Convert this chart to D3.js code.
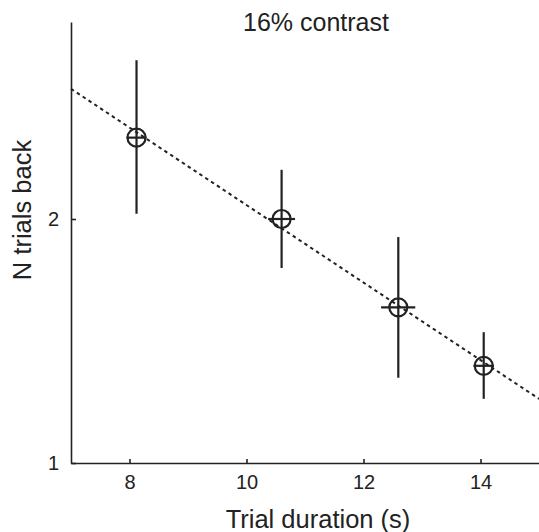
<!DOCTYPE html>
<html>
<head>
<meta charset="utf-8">
<script src="https://cdn.jsdelivr.net/npm/d3@7"></script>
<style>
  body { margin: 0; background: #fff; }
  svg { display: block; }
  text { font-family: "Liberation Sans", Arial, sans-serif; fill: #222; }
</style>
</head>
<body>
<svg id="chart" width="539" height="532"></svg>
<script>
// Data
const durations = [8.12, 10.60, 12.595, 14.055];   // trial duration (s)
const nBack     = [2.52, 2.00, 1.556, 1.318];     // N trials back
const nBackLo   = [2.03, 1.74, 1.274, 1.20];
const nBackHi   = [3.14, 2.30, 1.90, 1.45];
const durLo     = [7.95, 10.37, 12.30, 13.88];
const durHi     = [8.29, 10.83, 12.885, 14.23];
const fitX      = [7, 15];
const fitY      = [2.895, 1.20];
const xTicks    = [8, 10, 12, 14];
const yTicks    = [1, 2];
const title     = "16% contrast";
const xLabel    = "Trial duration (s)";
const yLabel    = "N trials back";

const svg = d3.select("#chart");
const ink = "#222";

const x = d3.scaleLinear().domain([7, 15]).range([71, 539]);
const y = d3.scaleLog().domain([1, 3.5]).range([463, 22]);

// Axes
const xAxis = d3.axisBottom(x).tickValues(xTicks).tickSizeInner(-4).tickSizeOuter(0).tickPadding(12).tickFormat(d3.format("d"));
const yAxis = d3.axisLeft(y).tickValues(yTicks).tickSizeInner(-5).tickSizeOuter(0).tickPadding(12).tickFormat(d3.format("d"));

const gx = svg.append("g").attr("transform", `translate(0,${y(1)})`).call(xAxis);
const gy = svg.append("g").attr("transform", `translate(${x(7)},0)`).call(yAxis);
[gx, gy].forEach(g => {
  g.select(".domain").attr("stroke", ink).attr("stroke-width", 1.6);
  g.selectAll(".tick line").attr("stroke", ink).attr("stroke-width", 1.6);
  g.selectAll(".tick text").attr("font-size", 20).attr("fill", ink)
    .style("font-family", '"Liberation Sans", Arial, sans-serif');
});
gx.selectAll(".tick text").attr("dy", "0.71em");

// Fit line (dotted)
svg.append("line")
  .attr("x1", x(fitX[0])).attr("y1", y(fitY[0]))
  .attr("x2", x(fitX[1])).attr("y2", y(fitY[1]))
  .attr("stroke", ink).attr("stroke-width", 2)
  .attr("stroke-dasharray", "3.5,3.5");

// Error bars and markers
const pts = durations.map((d, i) => ({ d, n: nBack[i], lo: nBackLo[i], hi: nBackHi[i], xl: durLo[i], xh: durHi[i] }));
const g = svg.append("g");
g.selectAll(".ev").data(pts).join("line")
  .attr("x1", p => x(p.d)).attr("x2", p => x(p.d))
  .attr("y1", p => y(p.lo)).attr("y2", p => y(p.hi))
  .attr("stroke", ink).attr("stroke-width", 2.2);
g.selectAll(".eh").data(pts).join("line")
  .attr("x1", p => x(p.xl)).attr("x2", p => x(p.xh))
  .attr("y1", p => y(p.n)).attr("y2", p => y(p.n))
  .attr("stroke", ink).attr("stroke-width", 2.2);
g.selectAll("circle").data(pts).join("circle")
  .attr("cx", p => x(p.d)).attr("cy", p => y(p.n)).attr("r", 9)
  .attr("fill", "none").attr("stroke", ink).attr("stroke-width", 2.2);

// Labels
svg.append("text").attr("x", 316).attr("y", 31).attr("text-anchor", "middle")
  .attr("font-size", 25).text(title);
svg.append("text").attr("x", 318).attr("y", 528).attr("text-anchor", "middle")
  .attr("font-size", 25.5).text(xLabel);
svg.append("text").attr("transform", "translate(31,210) rotate(-90)")
  .attr("text-anchor", "middle").attr("font-size", 25.5).text(yLabel);
</script>
</body>
</html>
